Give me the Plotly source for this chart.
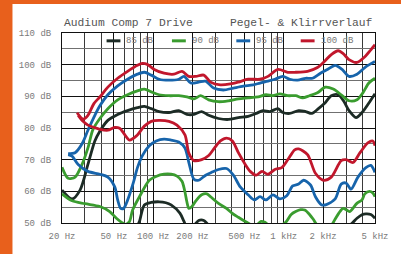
import math
import plotly.graph_objects as go

# ---------------- data ----------------
series_names = ["85 dB", "90 dB", "95 dB", "100 dB"]
series_colors = ["#1c2b25", "#3a9c2f", "#1764ab", "#c1172c"]

# frequency response (level) curves
f_lvl_85 = [20, 23.9, 27.5, 31.6, 35.7, 39, 44.9, 53.4, 63.6, 75.7, 85.5, 96.6, 111, 132, 157, 181, 205, 235, 266, 316,
            377, 449, 534, 614, 694, 784, 902, 984, 1112, 1300, 1469, 1640, 1842, 2046, 2312, 2612, 2898, 3162, 3578,
            4036, 4560, 5000]
db_lvl_85 = [60.4, 57.6, 60.4, 68.5, 75.9, 79.0, 82.4, 84.3, 85.5, 86.4, 86.8, 86.1, 85.2, 84.9, 85.5, 84.3, 84.3, 85.2,
             84.0, 83.0, 82.7, 83.3, 83.7, 84.6, 85.5, 85.2, 86.1, 84.9, 84.6, 85.5, 85.2, 84.6, 86.1, 87.7, 90.2, 90.5,
             88.3, 85.5, 83.3, 85.2, 88.3, 90.8]

f_lvl_90 = [20, 22.3, 25.2, 28.5, 31.6, 34.5, 39, 44.9, 53.4, 63.6, 75.7, 85.5, 96.6, 111, 132, 157, 181, 205, 231, 266,
            316, 377, 449, 534, 636, 731, 826, 934, 1074, 1234, 1394, 1575, 1811, 2082, 2394, 2754, 3162, 3640, 4036,
            4488, 5000]
db_lvl_90 = [67.6, 64.1, 64.5, 68.5, 73.7, 79.5, 83.0, 86.1, 88.9, 90.5, 91.7, 92.3, 91.4, 90.5, 90.2, 90.2, 89.8, 89.2,
             90.2, 88.9, 88.3, 88.6, 89.2, 89.5, 89.8, 90.5, 90.2, 90.8, 90.2, 90.2, 89.5, 90.2, 91.1, 92.9, 92.3, 90.5,
             88.6, 88.9, 91.1, 94.2, 95.7]

f_lvl_95 = [22.3, 25.2, 28.5, 31.6, 35.7, 39, 44.9, 53.4, 63.6, 75.7, 85.5, 96.6, 111, 132, 157, 172, 194, 223, 252, 290,
            345, 411, 490, 582, 658, 757, 855, 984, 1112, 1277, 1469, 1660, 1909, 2158, 2478, 2800, 3162, 3640, 4178,
            5000]
db_lvl_95 = [71.9, 72.2, 75.0, 79.3, 84.0, 87.0, 90.5, 93.3, 95.4, 97.0, 97.6, 96.7, 95.4, 95.1, 95.4, 96.3, 94.2, 94.5,
             94.8, 92.6, 92.0, 92.6, 93.2, 93.6, 94.2, 94.8, 95.4, 96.3, 95.4, 95.1, 95.7, 95.7, 97.3, 98.5, 99.8, 98.5,
             96.3, 97.0, 99.1, 101.0]

f_lvl_100 = [26.1, 29, 31.6, 35.1, 39, 44.9, 53.4, 63.6, 75.7, 82.6, 90, 101.8, 121, 144, 166, 187, 212, 244, 275, 327,
             390, 449, 534, 658, 757, 902, 1074, 1234, 1521, 1811, 2046, 2312, 2612, 2852, 3162, 3640, 4178, 4646, 5000]
db_lvl_100 = [84.8, 82.8, 84.0, 87.7, 89.8, 92.9, 95.7, 97.9, 99.8, 100.4, 100.1, 98.5, 97.3, 97.0, 97.9, 96.3, 96.3,
              96.7, 94.5, 93.6, 93.9, 94.5, 95.4, 95.4, 96.3, 98.5, 97.6, 97.6, 97.9, 99.1, 101.0, 103.2, 104.4, 103.5,
              101.6, 100.7, 102.5, 104.7, 106.3]

# distortion curves
f_dist_85 = [20, 40, 60, 75.7, 78.4, 85.5, 96.6, 111, 125, 137, 160, 172, 181, 205, 223, 244, 262, 290, 500, 1000, 2000,
             3000, 3334, 3640, 3972, 4256, 4646, 5000]
db_dist_85 = [47.0, 46.5, 46.5, 49.3, 50.5, 55.7, 56.5, 56.7, 56.4, 55.7, 53.1, 50.5, 48.7, 49.3, 50.8, 50.8, 49.6, 48.3,
              47.0, 47.0, 47.0, 48.5, 49.9, 51.5, 52.6, 52.9, 52.7, 51.5]

f_dist_90 = [20, 23.9, 30, 39, 46.4, 52.2, 57.3, 61.4, 65.8, 69.5, 78.4, 93.3, 105, 121, 137, 152, 166, 175, 181, 187.5,
             198, 212, 235, 258, 275, 316, 364, 404, 449, 507, 553, 614, 670, 719, 784, 902, 1034, 1140, 1234, 1346,
             1450, 1575, 1688, 1811, 2082, 2312, 2460, 2658, 2852, 3006, 3200, 3630, 3972, 4178, 4540, 4808, 5000]
db_dist_90 = [59.2, 57.0, 56.1, 55.2, 53.6, 51.5, 50.2, 49.6, 50.5, 54.1, 58.3, 63.5, 64.7, 65.4, 65.4, 64.8, 63.2, 59.8,
              56.7, 54.6, 55.2, 57.0, 58.9, 59.2, 58.3, 56.2, 54.6, 53.0, 51.8, 50.5, 49.6, 49.3, 50.5, 50.2, 49.0,
              49.0, 50.2, 52.7, 53.6, 54.2, 54.1, 52.7, 51.1, 49.3, 48.7, 49.3, 51.0, 53.3, 54.6, 54.2, 53.6, 56.2,
              57.3, 59.2, 60.0, 59.5, 58.3]

f_dist_95 = [22.3, 23.9, 26.6, 31.6, 39, 44.9, 50.7, 53.4, 56.3, 59.3, 62.5, 65.8, 70.6, 75.7, 82.6, 93.3, 105.4, 121,
             137, 157, 175, 187.5, 205, 223, 252, 280, 316, 364, 411, 464, 534, 593, 658, 731, 826, 934, 1054, 1170,
             1300, 1419, 1603, 1748, 1941, 2119, 2478, 2754, 3006, 3276, 3700, 4256, 4646, 5000]
db_dist_95 = [71.6, 71.1, 68.5, 66.3, 65.4, 64.5, 61.4, 57.3, 54.6, 54.6, 56.4, 58.9, 62.9, 67.5, 71.3, 74.4, 75.9, 76.5,
              76.2, 75.6, 73.7, 69.1, 63.8, 63.5, 65.1, 66.0, 66.9, 67.2, 65.1, 61.4, 58.9, 57.3, 58.3, 57.3, 58.9,
              57.6, 58.6, 61.7, 62.3, 63.5, 62.0, 58.3, 55.8, 55.8, 57.6, 62.3, 62.6, 60.7, 64.5, 67.5, 68.2, 66.0]

f_dist_100 = [26.6, 29, 31.6, 35.1, 39, 44.9, 50.7, 55.3, 59.3, 65.8, 74.4, 85.5, 96.6, 111, 132, 152, 175, 187, 205,
              235, 266, 295, 327, 364, 404, 449, 507, 553, 614, 682, 757, 855, 966, 1074, 1213, 1300, 1521, 1748, 2009,
              2312, 2754, 3006, 3396, 3838, 4406, 4808, 5000]
db_dist_100 = [84.0, 82.1, 80.9, 80.2, 79.6, 79.3, 80.2, 79.9, 78.4, 76.2, 77.5, 80.6, 82.1, 82.4, 82.1, 80.9, 77.8,
               72.2, 69.7, 70.0, 71.3, 73.7, 75.9, 76.8, 75.9, 72.2, 68.5, 66.3, 65.1, 66.3, 65.4, 66.9, 67.5, 70.0,
               73.1, 73.4, 71.6, 65.7, 63.5, 64.5, 69.7, 70.0, 69.1, 72.2, 75.3, 75.9, 74.4]

level_f = [f_lvl_85, f_lvl_90, f_lvl_95, f_lvl_100]
level_db = [db_lvl_85, db_lvl_90, db_lvl_95, db_lvl_100]
dist_f = [f_dist_85, f_dist_90, f_dist_95, f_dist_100]
dist_db = [db_dist_85, db_dist_90, db_dist_95, db_dist_100]

x_label_vals = [20, 50, 100, 200, 500, 1000, 2000, 5000]
x_label_text = ["20 Hz", "50 Hz", "100 Hz", "200 Hz", "500 Hz", "1 kHz", "2 kHz", "5 kHz"]
x_minor_vals = [30, 40, 60, 70, 80, 90, 300, 400, 600, 700, 800, 900, 3000, 4000]
y_label_vals = [50, 60, 70, 80, 90, 100, 110]
y_label_text = ["50 dB", "60 dB", "70 dB", "80 dB", "90 dB", "100 dB", "110 dB"]
y_minor_vals = [55, 65, 75, 85, 95, 105]

title_left = "Audium Comp 7 Drive"
title_right = "Pegel- & Klirrverlauf"

# ---------------- figure ----------------
W, H = 401, 254
ML, MR, MT, MB = 62, 23, 33, 27
PW, PH = W - ML - MR, H - MT - MB
FONT = "Liberation Mono, Courier New, monospace"
F_LO, F_HI = 20, 5000


def px_x(px):
    return (px - ML) / PW


def px_y(py):
    return (H - MB - py) / PH


def fx(f):
    return (math.log10(f) - math.log10(F_LO)) / (math.log10(F_HI) - math.log10(F_LO))


fig = go.Figure()
for i in range(4):
    for fs, ds in ((dist_f[i], dist_db[i]), (level_f[i], level_db[i])):
        fig.add_trace(go.Scatter(
            x=fs, y=ds, mode="lines", name=series_names[i], showlegend=False,
            line=dict(color=series_colors[i], width=2.8, shape="spline", smoothing=0.8),
            hoverinfo="skip"))

shapes = []
# orange frame strips
shapes.append(dict(type="rect", xref="paper", yref="paper", x0=px_x(-5), x1=px_x(12), y0=-1, y1=2,
                   fillcolor="#e8601c", line=dict(width=0), layer="above"))
shapes.append(dict(type="rect", xref="paper", yref="paper", x0=px_x(-5), x1=2, y0=px_y(3.5), y1=2,
                   fillcolor="#e8601c", line=dict(width=0), layer="above"))
# white legend boxes in the top grid row (hide grid lines behind them)
for a, b in ((40, 100), (100, 400), (400, 4000)):
    shapes.append(dict(type="rect", xref="paper", yref="paper", x0=fx(a) + 0.004, x1=fx(b) - 0.004,
                       y0=(105 - 50) / 60 + 0.004, y1=0.996,
                       fillcolor="white", line=dict(width=0), layer="between"))

annotations = []
legend_sample_px = [(107, 121), (173, 187), (238, 252), (303, 317)]
legend_text_px = [126, 192, 257, 322]
leg_y = px_y(41)
for i in range(4):
    x0, x1 = legend_sample_px[i]
    shapes.append(dict(type="line", xref="paper", yref="paper", x0=px_x(x0), x1=px_x(x1), y0=leg_y, y1=leg_y,
                       line=dict(color=series_colors[i], width=3), layer="above"))
    annotations.append(dict(text=series_names[i], xref="paper", yref="paper", x=px_x(legend_text_px[i]), y=leg_y,
                            xanchor="left", yanchor="middle", showarrow=False, borderpad=0,
                            font=dict(family=FONT, size=9, color="#777777")))

annotations.append(dict(text=title_left, xref="paper", yref="paper", x=0, y=px_y(22.5), xanchor="left",
                        yanchor="middle", showarrow=False, font=dict(family=FONT, size=11.3, color="#555555")))
annotations.append(dict(text=title_right, xref="paper", yref="paper", x=1, y=px_y(22.5), xanchor="right",
                        yanchor="middle", showarrow=False, font=dict(family=FONT, size=11.3, color="#555555")))

fig.update_layout(
    width=W, height=H, margin=dict(l=ML, r=MR, t=MT, b=MB, pad=0),
    paper_bgcolor="white", plot_bgcolor="white",
    showlegend=False, shapes=shapes, annotations=annotations,
    xaxis=dict(type="log", range=[math.log10(F_LO), math.log10(F_HI)],
               tickmode="array", tickvals=x_label_vals, ticktext=x_label_text,
               showgrid=True, gridcolor="#111111", gridwidth=1,
               minor=dict(tickmode="array", tickvals=x_minor_vals, showgrid=True, gridcolor="#3a3a3a", gridwidth=1,
                          ticks=""),
               ticks="", ticklabelstandoff=4, zeroline=False,
               showline=True, linecolor="#111111", linewidth=1, mirror=True,
               tickfont=dict(family=FONT, size=9, color="#7a7a7a"), fixedrange=True),
    yaxis=dict(range=[50, 110], tickmode="array", tickvals=y_label_vals, ticktext=y_label_text,
               showgrid=True, gridcolor="#111111", gridwidth=1,
               minor=dict(tickmode="array", tickvals=y_minor_vals, showgrid=True, gridcolor="#707070", gridwidth=1,
                          ticks=""),
               ticks="", ticklabelstandoff=8, zeroline=False,
               showline=True, linecolor="#111111", linewidth=1, mirror=True,
               tickfont=dict(family=FONT, size=9, color="#7a7a7a"), fixedrange=True),
)

fig.write_html(
    "out.html",
    config={"displayModeBar": False, "staticPlot": True},
    post_script="document.body.style.margin='0';document.body.style.overflow='hidden';",
)
